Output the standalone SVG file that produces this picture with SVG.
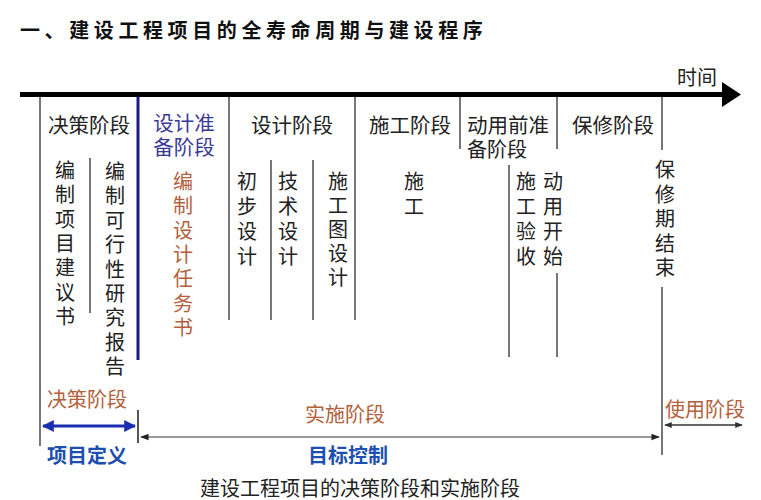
<svg xmlns="http://www.w3.org/2000/svg" width="761" height="500" viewBox="0 0 761 500">
<style>
text{font-family:"Liberation Sans","Noto Sans CJK SC",sans-serif;font-size:20px;fill:#222}
.hd{text-anchor:middle;font-size:20.5px}
.v{text-anchor:middle;font-size:20px}
.brown{fill:#b3603c}
.dblue{fill:#3a3a98}
.bblue{fill:#1d4fb0;font-weight:bold}
.g{stroke:#777;stroke-width:2;fill:none}
.title{font-family:"Noto Sans CJK SC",serif;font-weight:bold;font-size:20px;letter-spacing:4.6px;fill:#111}
</style>
<defs>
<marker id="ab" viewBox="0 0 10 10" refX="9" refY="5" markerWidth="4" markerHeight="4" orient="auto-start-reverse"><path d="M0,0 L10,5 L0,10 z" fill="#1a2fb0"/></marker>
<marker id="ak" viewBox="0 0 10 10" refX="9" refY="5" markerWidth="7" markerHeight="7" orient="auto-start-reverse"><path d="M0,1 L10,5 L0,9 z" fill="#222"/></marker>
<marker id="ag" viewBox="0 0 10 10" refX="9" refY="5" markerWidth="5" markerHeight="5" orient="auto-start-reverse"><path d="M0,1 L10,5 L0,9 z" fill="#333"/></marker>
</defs>
<rect width="761" height="500" fill="#fff"/>
<text class="title" x="20" y="38">一、建设工程项目的全寿命周期与建设程序</text>

<g id="timeline">
<line x1="20" y1="94.5" x2="724" y2="94.5" stroke="#000" stroke-width="5"/>
<path d="M722,82 L741,94.5 L722,107 z" fill="#000"/>
<text x="677" y="85" font-size="20">时间</text>
</g>

<g id="connectors">
<line class="g" x1="40" y1="97" x2="40" y2="446"/>
<line x1="138" y1="97" x2="138" y2="360" stroke="#1a1a8c" stroke-width="3"/>
<line class="g" x1="229" y1="97" x2="229" y2="320"/>
<line class="g" x1="355" y1="97" x2="355" y2="320"/>
<line class="g" x1="460" y1="97" x2="460" y2="149"/>
<line class="g" x1="557" y1="97" x2="557" y2="149"/>
<line class="g" x1="662" y1="97" x2="662" y2="150"/>
<line class="g" x1="90" y1="158" x2="90" y2="313"/>
<line class="g" x1="271" y1="160" x2="271" y2="320"/>
<line class="g" x1="313" y1="160" x2="313" y2="320"/>
<line class="g" x1="509" y1="165" x2="509" y2="357"/>
<line class="g" x1="557" y1="273" x2="557" y2="357"/>
<line class="g" x1="662" y1="287" x2="662" y2="455"/>
<line x1="138" y1="410" x2="138" y2="443" stroke="#555" stroke-width="2"/>
<line x1="43" y1="426" x2="135" y2="426" stroke="#1a2fb0" stroke-width="3" marker-start="url(#ab)" marker-end="url(#ab)"/>
<line x1="141" y1="437" x2="659" y2="437" stroke="#333" stroke-width="1.2" marker-start="url(#ak)" marker-end="url(#ak)"/>
<line x1="665" y1="425" x2="742" y2="425" stroke="#333" stroke-width="1.5" marker-start="url(#ag)" marker-end="url(#ag)"/>
</g>

<g id="n-decision"><text class="hd" x="89" y="133">决策阶段</text></g>
<g id="n-design-prep"><text class="hd dblue" x="184" y="131">设计准<tspan x="184" dy="24">备阶段</tspan></text></g>
<g id="n-design"><text class="hd" x="292" y="133">设计阶段</text></g>
<g id="n-construction"><text class="hd" x="410" y="133">施工阶段</text></g>
<g id="n-pre-use"><text class="hd" x="508" y="133">动用前准</text><text x="467" y="157" font-size="20.5">备阶段</text></g>
<g id="n-warranty"><text class="hd" x="613" y="133">保修阶段</text></g>

<g id="v-proposal"><text class="v" x="65" y="178">编<tspan x="65" dy="24.3">制</tspan><tspan x="65" dy="24.3">项</tspan><tspan x="65" dy="24.3">目</tspan><tspan x="65" dy="24.3">建</tspan><tspan x="65" dy="24.3">议</tspan><tspan x="65" dy="24.3">书</tspan></text></g>
<g id="v-feasibility"><text class="v" x="115" y="179">编<tspan x="115" dy="24.4">制</tspan><tspan x="115" dy="24.4">可</tspan><tspan x="115" dy="24.4">行</tspan><tspan x="115" dy="24.4">性</tspan><tspan x="115" dy="24.4">研</tspan><tspan x="115" dy="24.4">究</tspan><tspan x="115" dy="24.4">报</tspan><tspan x="115" dy="24.4">告</tspan></text></g>
<g id="v-taskbook"><text class="v brown" x="183" y="189">编<tspan x="183" dy="24.3">制</tspan><tspan x="183" dy="24.3">设</tspan><tspan x="183" dy="24.3">计</tspan><tspan x="183" dy="24.3">任</tspan><tspan x="183" dy="24.3">务</tspan><tspan x="183" dy="24.3">书</tspan></text></g>
<g id="v-prelim"><text class="v" x="247" y="189">初<tspan x="247" dy="25">步</tspan><tspan x="247" dy="25">设</tspan><tspan x="247" dy="25">计</tspan></text></g>
<g id="v-tech"><text class="v" x="288" y="189">技<tspan x="288" dy="25">术</tspan><tspan x="288" dy="25">设</tspan><tspan x="288" dy="25">计</tspan></text></g>
<g id="v-drawing"><text class="v" x="338" y="189">施<tspan x="338" dy="24">工</tspan><tspan x="338" dy="24">图</tspan><tspan x="338" dy="24">设</tspan><tspan x="338" dy="24">计</tspan></text></g>
<g id="v-build"><text class="v" x="414" y="189">施<tspan x="414" dy="25">工</tspan></text></g>
<g id="v-accept"><text class="v" x="526" y="189">施<tspan x="526" dy="25">工</tspan><tspan x="526" dy="25">验</tspan><tspan x="526" dy="25">收</tspan></text></g>
<g id="v-start"><text class="v" x="553" y="189">动<tspan x="553" dy="25">用</tspan><tspan x="553" dy="25">开</tspan><tspan x="553" dy="25">始</tspan></text></g>
<g id="v-end"><text class="v" x="665" y="177">保<tspan x="665" dy="24.5">修</tspan><tspan x="665" dy="24.5">期</tspan><tspan x="665" dy="24.5">结</tspan><tspan x="665" dy="24.5">束</tspan></text></g>

<g id="b-decision"><text class="brown" x="47" y="407" font-size="20.5">决策阶段</text></g>
<g id="b-define"><text class="bblue" x="47" y="463">项目定义</text></g>
<g id="b-impl"><text class="brown" x="305" y="422" font-size="20.5">实施阶段</text></g>
<g id="b-control"><text class="bblue" x="308" y="463" font-size="20.5">目标控制</text></g>
<g id="b-use"><text class="brown" x="665" y="417" font-size="20.5">使用阶段</text></g>
<g id="caption"><text x="200" y="496" font-size="20.2">建设工程项目的决策阶段和实施阶段</text></g>
</svg>
